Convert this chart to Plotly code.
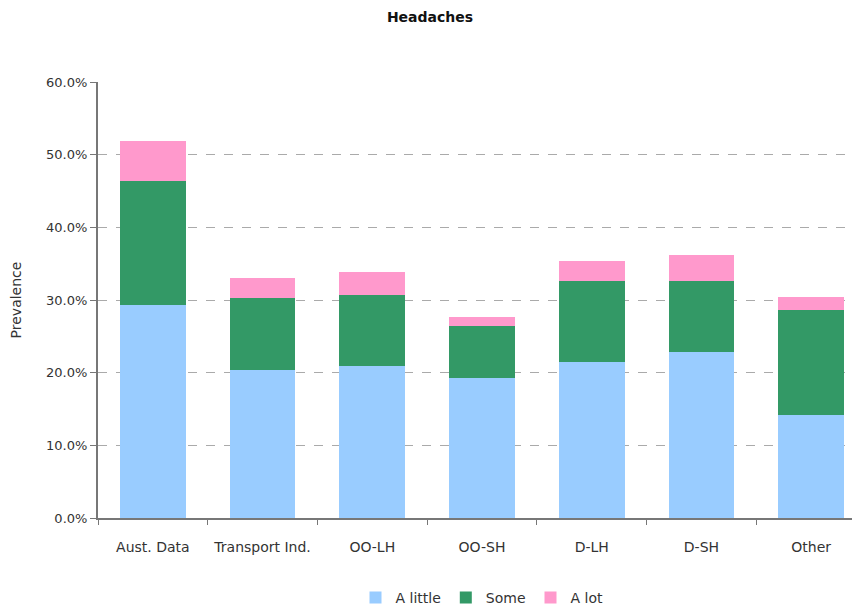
import plotly.graph_objects as go

categories = ["Aust. Data", "Transport Ind.", "OO-LH", "OO-SH", "D-LH", "D-SH", "Other"]
a_little = [29.3, 20.4, 20.9, 19.3, 21.5, 22.8, 14.2]
some = [17.1, 9.9, 9.8, 7.1, 11.1, 9.8, 14.4]
a_lot = [5.5, 2.7, 3.2, 1.3, 2.8, 3.6, 1.8]
y_ticks = [0, 10, 20, 30, 40, 50, 60]

FONT = "'DejaVu Sans', sans-serif"
W, H = 860, 600

fig = go.Figure()
for name, vals, col in [("A little", a_little, "#99ccff"),
                        ("Some", some, "#339966"),
                        ("A lot", a_lot, "#ff99cc")]:
    fig.add_trace(go.Bar(x=categories, y=vals, name=name, marker_color=col,
                         marker_line_width=0))

fig.update_layout(
    width=W, height=H,
    barmode="stack", bargap=0.4,
    paper_bgcolor="white", plot_bgcolor="white",
    margin=dict(l=90, r=2, t=74, b=90, autoexpand=False),
    font=dict(family=FONT, size=13, color="#333333"),
    title=dict(text="<b>Headaches</b>", x=422 / W, xref="container", xanchor="center",
               y=1 - 9 / H, yref="container", yanchor="middle",
               font=dict(size=14, color="#111111")),
    legend=dict(orientation="h", x=474 / W, xref="container", xanchor="center",
                y=10 / H, yref="container",
                yanchor="middle", font=dict(size=14, color="#333333"),
                traceorder="normal", itemwidth=30),
    showlegend=True,
)
fig.update_xaxes(
    showline=True, linecolor="#777777", linewidth=2,
    ticks="outside", tickson="boundaries", ticklen=5, tickcolor="#777777",
    ticklabelstandoff=15, showgrid=False, automargin=False, tickangle=0,
    tickfont=dict(size=14, color="#333333"),
)
fig.update_yaxes(
    range=[0, 60.03], tickvals=y_ticks, ticktext=[f"{v:.1f}%" for v in y_ticks],
    showline=True, linecolor="#777777", linewidth=2,
    ticks="outside", ticklen=6, tickcolor="#777777",
    showgrid=True, gridcolor="#aaaaaa", griddash="dash", gridwidth=1,
    zeroline=False, automargin=False,
    title=dict(text="Prevalence", font=dict(size=14, color="#333333"), standoff=24),
    tickfont=dict(size=13, color="#333333"),
)

fig.write_html("out.html")
